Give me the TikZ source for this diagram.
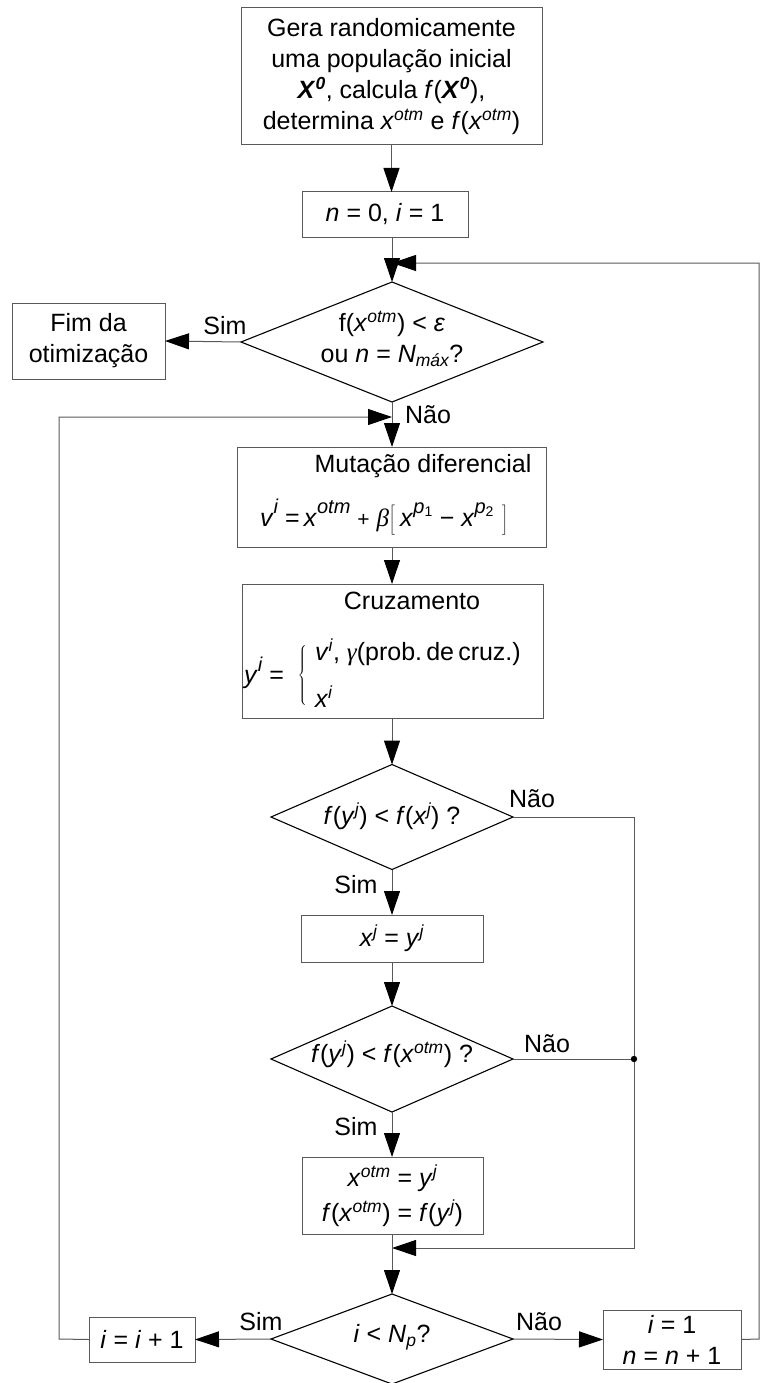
\documentclass[tikz,border=0pt]{standalone}
\usepackage{fix-cm}
\usepackage{fontspec}
\setmainfont{Liberation Sans}
\newfontfamily\grk{Liberation Serif}
\usetikzlibrary{arrows.meta,shapes.geometric}
\colorlet{linecol}{black!65}
\newcommand\up[1]{\textsuperscript{\itshape #1}}
\newcommand\dn[1]{\textsubscript{\itshape #1}}
\newcommand\va[1]{\textit{#1}}
\newcommand\gk[1]{{\grk\itshape #1}}
% larger exponents for the mutation formula
\newcommand\bup[1]{\raisebox{0.5em}{\fontsize{20}{20}\selectfont\itshape #1}}
% invisible strut of a given total height, centred on the math axis
\newcommand\axstrut[1]{\vcenter{\hbox{\rule{0pt}{#1}}}}

\begin{document}
\begin{tikzpicture}[x=1pt,y=-1pt,
  every node/.style={font=\fontsize{25}{31}\selectfont, inner sep=0pt, outer sep=0pt},
  procbox/.style={draw=linecol, line width=1pt, rectangle, align=center},
  dia/.style={draw=black, line width=1.1pt, diamond},
  conn/.style={draw=linecol, line width=1pt},
  arr/.style={conn, -{Triangle[length=24pt,width=16pt,color=black]}}]
\useasboundingbox (0,0) rectangle (760,1383);

% process boxes and decisions
\node[procbox, minimum width=301pt, minimum height=137pt] (start) at (391.5,76.5)
  {Gera randomicamente\\uma população inicial\\
   \textbf{\textit{X}}\up{\bfseries 0}, calcula \va{f}(\textbf{\textit{X}}\up{\bfseries 0}),\\
   determina \va{x}\up{otm} e \va{f}(\va{x}\up{otm})};
\node[procbox, minimum width=166pt, minimum height=45pt] (init) at (385,214.5)
  {\va{n} = 0, \va{i} = 1};

\node[dia, minimum width=302pt, minimum height=120pt] (d1) at (392,342) {};
\node[align=center] (d1t) at (392,339)
  {f(\va{x}\up{otm}) < \va{ε}\\ou \va{n} = \va{N}\dn{máx}?};
\node[procbox, minimum width=153pt, minimum height=76pt] (fim) at (88.5,341)
  {Fim da\\otimização};

\node[procbox, minimum width=309pt, minimum height=100pt] (mut) at (391.5,497) {};
\node (mutT) at (423,466) {Mutação diferencial};
\node (mutF) at (384,517)
  {\va{v}\bup{i} =\,\va{x}\bup{otm} {\fontsize{21}{21}\selectfont +} \gk{β}$\left[\axstrut{30pt}\right.$\,\va{x}\bup{p\textsubscript{\upshape 1}} − \va{x}\bup{p\textsubscript{\upshape 2}}\;$\left.\axstrut{30pt}\right]$};

\node[procbox, minimum width=301pt, minimum height=134pt] (cruz) at (392.5,651) {};
\node (cruzT) at (412,601) {Cruzamento};
\node (cruzY) at (264,673) {\va{y}\bup{i} =};
\node (brace) at (303,675) {$\left\{\axstrut{62pt}\right.$};
\node[anchor=west] (row1) at (315,652) {\va{v}\up{i}, \gk{γ}(prob.\,de\,cruz.)};
\node[anchor=west] (row2) at (315,697) {\va{x}\up{i}};

\node[dia, minimum width=242pt, minimum height=105pt] (d2) at (392,817) {};
\node (d2t) at (392,816) {\va{f}(\va{y}\up{j}) < \va{f}(\va{x}\up{j}) ?};

\node[procbox, minimum width=182pt, minimum height=47pt] (xy) at (392,938.5)
  {\va{x}\up{j} = \va{y}\up{j}};

\node[dia, minimum width=242pt, minimum height=106pt] (d3) at (392,1059) {};
\node (d3t) at (392,1054) {\va{f}(\va{y}\up{j}) < \va{f}(\va{x}\up{otm}) ?};

\node[procbox, minimum width=181pt, minimum height=77pt] (xotm) at (392.5,1195.5)
  {\va{x}\up{otm} = \va{y}\up{j}\\[4pt]\va{f}(\va{x}\up{otm}) = \va{f}(\va{y}\up{j})};

\node[dia, minimum width=242pt, minimum height=90pt] (d4) at (392,1339) {};
\node (d4t) at (392,1337) {\va{i} < \va{N}\dn{p}?};

\node[procbox, minimum width=106pt, minimum height=45pt] (iinc) at (142,1339.5)
  {\va{i} = \va{i} + 1};
\node[procbox, minimum width=138pt, minimum height=59pt] (ione) at (672,1339.5)
  {\va{i} = 1\\\va{n} = \va{n} + 1};

% routing points of the loops
\coordinate (rbot) at (759,1339);
\coordinate (rtop) at (759,263);
\coordinate (ax1) at (392,263);
\coordinate (lbot) at (59,1339);
\coordinate (ltop) at (59,417);
\coordinate (ax2) at (392,417);
\coordinate (rc) at (634,817);
\coordinate (jn) at (634,1059);
\coordinate (rcb) at (634,1248);
\coordinate (ax3) at (392,1248);

% connectors
\draw[arr] (start.south) -- (start.south |- init.north);
\draw[arr] (init.south -| d1.north) -- (d1.north);
\draw[arr] (ione.east) -- (rbot) -- (rtop) -- (ax1);
\draw[arr] (d1.west) -- (fim.east);
\draw[arr] (d1.south) -- (d1.south |- mut.north);
\draw[arr] (iinc.west) -- (lbot) -- (ltop) -- (ax2);
\draw[arr] (mut.south -| d1.south) -- (cruz.north -| d1.south);
\draw[arr] (cruz.south -| d2.north) -- (d2.north);
\draw[arr] (d2.south) -- (xy.north);
\draw[arr] (d2.east) -- (rc) -- (rcb) -- (ax3);
\draw[arr] (xy.south) -- (d3.north);
\draw[conn] (d3.east) -- (jn);
\fill[black] (jn) circle (3.2pt);
\draw[arr] (d3.south) -- (d3.south |- xotm.north);
\draw[arr] (xotm.south -| d4.north) -- (d4.north);
\draw[arr] (d4.west) -- (iinc.east);
\draw[arr] (d4.east) -- (ione.west);

% branch labels
\node (sim1) at (225,326) {Sim};
\node (nao1) at (428,415) {Não};
\node (nao2) at (532,799) {Não};
\node (sim2) at (356,885) {Sim};
\node (nao3) at (547,1044) {Não};
\node (sim3) at (356,1127) {Sim};
\node (sim4) at (261,1322) {Sim};
\node (nao4) at (539,1322) {Não};
\end{tikzpicture}
\end{document}
